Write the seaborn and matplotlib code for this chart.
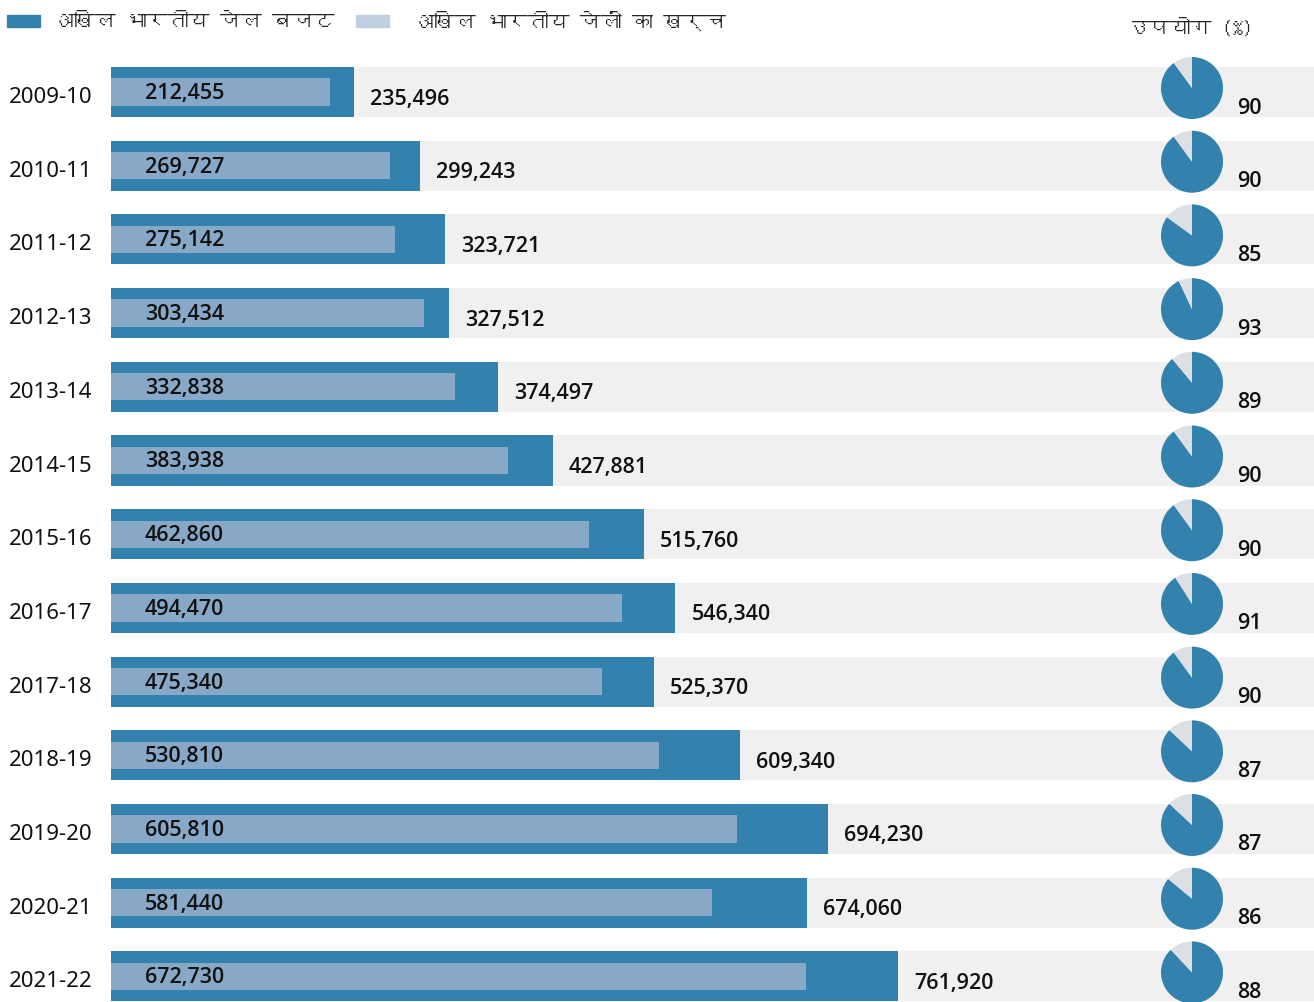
import numpy as np
import pandas as pd
import matplotlib
matplotlib.use("Agg")
import matplotlib.pyplot as plt
import matplotlib.transforms as mtransforms
from matplotlib import font_manager
from matplotlib.patches import Rectangle
import seaborn as sns

# Data
years = ["2009-10", "2010-11", "2011-12", "2012-13", "2013-14", "2014-15", "2015-16",
         "2016-17", "2017-18", "2018-19", "2019-20", "2020-21", "2021-22"]
budget = [235496, 299243, 323721, 327512, 374497, 427881, 515760,
          546340, 525370, 609340, 694230, 674060, 761920]
spend = [212455, 269727, 275142, 303434, 332838, 383938, 462860,
         494470, 475340, 530810, 605810, 581440, 672730]
util = [90, 90, 85, 93, 89, 90, 90, 91, 90, 87, 87, 86, 88]

legend_budget = "अखिल भारतीय जेल बजट"
legend_spend = "अखिल भारतीय जेलों का खर्च"
util_title = "उपयोग (%)"

# Colours
DARK = "#3381ad"
LIGHT = "#87a8c6"
BG = "#f0f0f0"
PIE_GREY = "#dcdfe3"
LEG_LIGHT = "#bfd0e1"

W, H = 1314, 1003
ROW_PX = 73.7
XMAX = 1164570


def find_deva_font():
    # look for any installed font that has Devanagari glyphs
    try:
        from fontTools.ttLib import TTFont
    except ImportError:
        return None
    for f in font_manager.fontManager.ttflist:
        try:
            tt = TTFont(f.fname, fontNumber=0, lazy=True)
            cmap = tt.getBestCmap()
            if cmap and 0x0905 in cmap:
                return f.name
        except Exception:
            continue
    return None


def _w(x):
    return font_manager.weight_dict.get(x, 400) if isinstance(x, str) else int(x)


def find_heavy_font():
    # a sans family that really ships a semibold/medium/bold face
    for want in (600, 500, 700):
        for fam in ("Noto Sans", "Open Sans", "Lato", "Roboto", "Inter"):
            for f in font_manager.fontManager.ttflist:
                if f.name == fam and _w(f.weight) == want and f.style == "normal":
                    return fam, want
    return "DejaVu Sans", 700


sns.set_style("white")
plt.rcParams['font.family'] = ['Noto Sans', 'DejaVu Sans']
deva = find_deva_font()
hindi_family = [deva, 'Noto Sans', 'DejaVu Sans'] if deva else ['Noto Sans', 'DejaVu Sans']
num_family, num_weight = find_heavy_font()

df = pd.DataFrame({"year": years, "budget": budget, "spend": spend, "util": util})
df["full"] = XMAX

fig = plt.figure(figsize=(W / 100, H / 100), dpi=100)
ax = fig.add_axes([111 / W, 0, (W - 111) / W, 1])

# background strip, budget bar, spend bar
bar_kw = dict(orient="h", saturation=1, linewidth=0, edgecolor="none", ax=ax)
sns.barplot(data=df, x="full", y="year", color=BG, width=0.68, **bar_kw)
sns.barplot(data=df, x="budget", y="year", color=DARK, width=0.68, **bar_kw)
sns.barplot(data=df, x="spend", y="year", color=LIGHT, width=0.37, **bar_kw)

ax.set_xlim(0, XMAX)
ax.set_ylim(12 + (H - 93 - 12 * ROW_PX) / ROW_PX, -93 / ROW_PX)
ax.axis("off")

num_kw = dict(fontsize=15.5, family=[num_family, 'DejaVu Sans'], fontweight=num_weight,
              va="center", ha="left", color="#111111")
lab_tr = mtransforms.blended_transform_factory(fig.transFigure, ax.transData)
for i, row in df.iterrows():
    ax.text(9 / W, i + 4.5 / ROW_PX, row["year"], transform=lab_tr, fontsize=16,
            va="center", ha="left", color="#111111")
    ax.text(145 / W, i + 0.5 / ROW_PX, f"{row['spend']:,}", transform=lab_tr, **num_kw)
    ax.text(row["budget"] + 16 / 1.033e-3, i + 6 / ROW_PX, f"{row['budget']:,}", **num_kw)
    ax.text(1237 / W, i + 15 / ROW_PX, f"{row['util']}", transform=lab_tr, **num_kw)

# pies
fig.canvas.draw()
PIE_PX = 62
for i, u in enumerate(util):
    _, yc = ax.transData.transform((0, i))
    yc = yc + 4  # pie sits a little above the row centre
    pax = fig.add_axes([(1192 - PIE_PX / 2) / W, (yc - PIE_PX / 2) / H, PIE_PX / W, PIE_PX / H])
    pax.pie([u, 100 - u], colors=[DARK, PIE_GREY], startangle=90, counterclock=False,
            wedgeprops=dict(linewidth=0))
    pax.set_xlim(-1, 1)
    pax.set_ylim(-1, 1)
    pax.set_aspect("equal")
    pax.axis("off")

# legend + header
fig.patches.append(Rectangle((7 / W, 1 - 28 / H), 33 / W, 12 / H, transform=fig.transFigure,
                             color=DARK, figure=fig))
fig.text(53 / W, 1 - 22 / H, legend_budget, fontsize=15, fontweight="bold",
         va="center", ha="left", family=hindi_family)
fig.patches.append(Rectangle((356 / W, 1 - 28 / H), 33 / W, 12 / H, transform=fig.transFigure,
                             color=LEG_LIGHT, figure=fig))
fig.text(413 / W, 1 - 22 / H, legend_spend, fontsize=15, fontweight="bold",
         va="center", ha="left", family=hindi_family)
fig.text(1190 / W, 1 - 28 / H, util_title, fontsize=15, fontweight="bold",
         va="center", ha="center", family=hindi_family)

fig.savefig("out.png", dpi=100)
